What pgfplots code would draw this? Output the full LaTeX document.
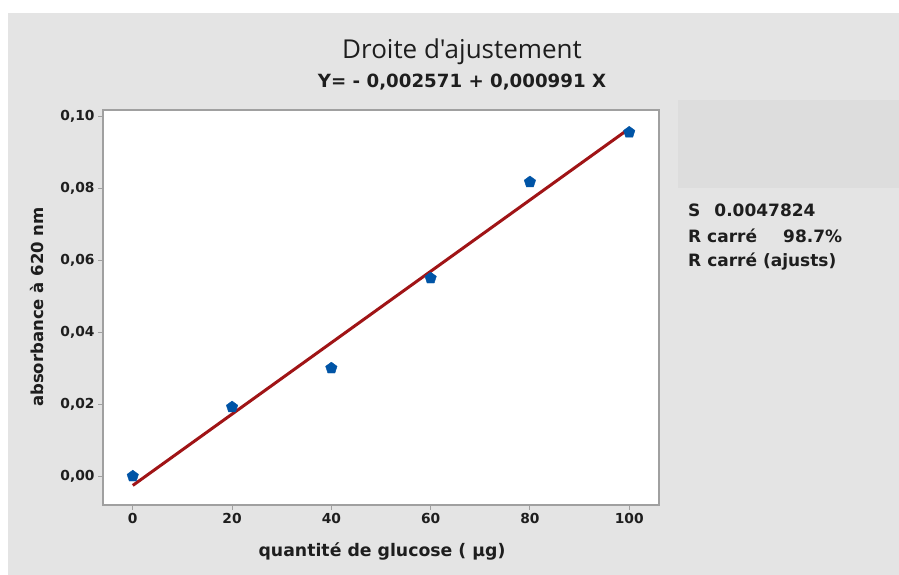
\documentclass[border=0pt]{standalone}
\usepackage{pgfplots}
\pgfplotsset{compat=1.18}
\usepackage{fontspec}
\setmainfont{DejaVu Sans}
\newfontfamily\titlefont{Open Sans}
\definecolor{bg}{RGB}{228,228,228}
\definecolor{boxc}{RGB}{221,221,221}
\definecolor{axisgray}{RGB}{160,160,160}
\definecolor{fitred}{RGB}{160,20,22}
\definecolor{ptblue}{RGB}{0,84,166}
\definecolor{textc}{RGB}{30,30,30}
\begin{document}
\begin{tikzpicture}[x=1pt,y=1pt]
\fill[white] (0,0) rectangle (899,575);
\fill[bg] (8,0) rectangle (899,562);
\fill[boxc] (678,387) rectangle (899,475);
\node[text=textc,font=\titlefont\fontsize{26}{30}\selectfont] at (462,523) {Droite d'ajustement};
\node[text=textc,font=\fontsize{18.2}{21}\selectfont\bfseries] at (462,493) {Y= - 0,002571 + 0,000991 X};
\node[text=textc,font=\fontsize{17}{20}\selectfont\bfseries,anchor=west,inner sep=0pt] at (688,365) {S\hspace{14pt}0.0047824};
\node[text=textc,font=\fontsize{17}{20}\selectfont\bfseries,anchor=west,inner sep=0pt] at (688,339) {R carré};
\node[text=textc,font=\fontsize{17}{20}\selectfont\bfseries,anchor=west,inner sep=0pt] at (783,339) {98.7\%};
\node[text=textc,font=\fontsize{17}{20}\selectfont\bfseries,anchor=west,inner sep=0pt] at (688,313) {R\hspace{6pt}carré (ajusts)};
\node[text=textc,font=\fontsize{17.3}{20}\selectfont\bfseries] at (382,24) {quantité de glucose ( µg)};
\node[text=textc,font=\fontsize{16.5}{20}\selectfont\bfseries,rotate=90] at (37,268) {absorbance à 620 nm};
\begin{axis}[
  at={(103pt,70pt)}, anchor=south west, scale only axis,
  width=556pt, height=395pt,
  xmin=-6, xmax=106, ymin=-0.008, ymax=0.1017,
  axis background/.style={fill=white},
  axis line style={draw=axisgray, line width=1.5pt},
  tick style={draw=axisgray, line width=1pt},
  tick align=outside, major tick length=5pt,
  xtick={0,20,40,60,80,100},
  ytick={0,0.02,0.04,0.06,0.08,0.10},
  xtick pos=bottom, ytick pos=left,
  scaled y ticks=false,
  yticklabel style={/pgf/number format/.cd, fixed, fixed zerofill, precision=2, use comma},
  ticklabel style={font=\fontsize{13.8}{16}\selectfont\bfseries, text=textc},
  /pgf/number format/assume math mode=true,
  clip=false,
]
\addplot[fitred, line width=3pt] coordinates {(0,-0.002571) (100,0.096529)};
\addplot[only marks, mark=pentagon*, mark size=6pt, color=ptblue] coordinates {
  (0,0.0000) (20,0.0192) (40,0.0300) (60,0.0550) (80,0.0817) (100,0.0955)
};
\end{axis}
\end{tikzpicture}
\end{document}
